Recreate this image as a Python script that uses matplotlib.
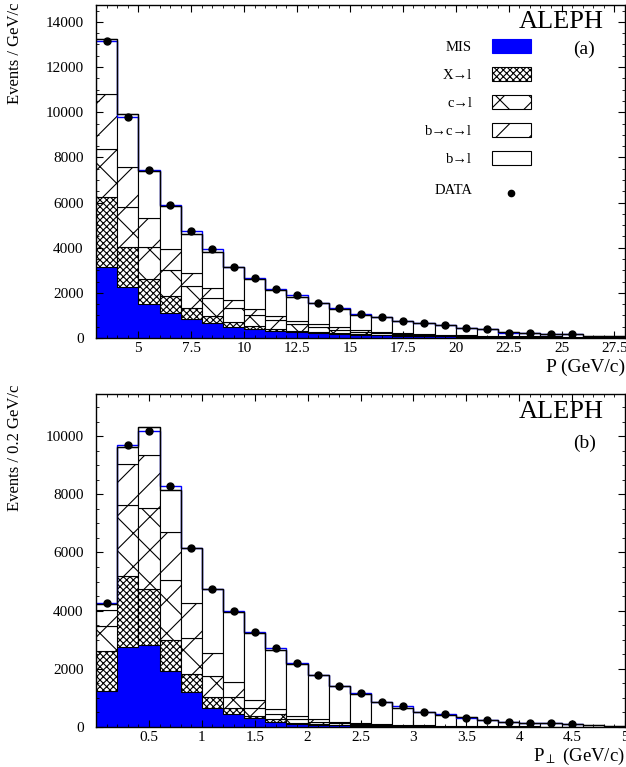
import numpy as np
import matplotlib
matplotlib.use("Agg")
import matplotlib.pyplot as plt
from matplotlib.ticker import MultipleLocator, FixedLocator
from matplotlib.patches import Rectangle

plt.rcParams['font.family'] = ['Liberation Serif', 'DejaVu Serif']
plt.rcParams['mathtext.fontset'] = 'stix'
plt.rcParams['hatch.linewidth'] = 0.8

# ---- panel (a): P spectrum, 1 GeV/c bins from 3 to 28
p_edges = np.arange(3, 29, 1.0)
p_mis = [3160, 2273, 1506, 1093, 827, 650, 500, 385, 325, 266, 236, 160, 133,
         118, 103, 89, 74, 65, 58, 50, 44, 38, 33, 28, 24]
p_xl = [3100, 1772, 1094, 767, 488, 325, 223, 135, 75, 54, 39, 47, 44,
        30, 15, 14, 15, 13, 10, 10, 8, 7, 6, 6, 5]
p_cl = [2114, 1745, 1416, 1153, 989, 782, 592, 500, 397, 300, 225, 147, 89,
        59, 44, 30, 29, 22, 20, 16, 14, 12, 10, 8, 7]
p_bcl = [2436, 1773, 1284, 915, 591, 443, 369, 250, 193, 147, 120, 136, 94,
         73, 45, 44, 30, 25, 22, 19, 16, 13, 11, 10, 9]
p_bl = [2440, 2347, 2085, 1935, 1713, 1625, 1476, 1330, 1152, 1063, 916, 780, 660,
        665, 546, 473, 428, 318, 303, 157, 154, 122, 102, 58, 35]
p_data = [13170, 9800, 7440, 5906, 4726, 3928, 3133, 2673, 2186, 1905, 1536, 1330,
          1050, 945, 753, 650, 576, 457, 399, 236, 236, 177, 162]

# ---- panel (b): Pt spectrum, 0.2 GeV/c bins from 0 to 5
pt_edges = np.linspace(0, 5, 26)
pt_mis = [1220, 2736, 2804, 1908, 1190, 660, 448, 299, 184, 103, 69, 57, 46,
          38, 30, 24, 19, 15, 12, 10, 8, 6, 5, 4, 3]
pt_xl = [1380, 2448, 1943, 1092, 630, 375, 196, 92, 80, 46, 34, 23, 19,
         14, 12, 9, 7, 6, 5, 3, 2, 2, 1, 1, 1]
pt_cl = [860, 2448, 2793, 2069, 1238, 730, 402, 253, 184, 115, 69, 46, 30,
         20, 15, 12, 9, 7, 5, 4, 3, 2, 2, 1, 1]
pt_bcl = [550, 1402, 1805, 1632, 1207, 770, 494, 276, 161, 127, 92, 58, 31,
          23, 18, 13, 11, 8, 7, 5, 4, 3, 2, 2, 1]
pt_bl = [220, 575, 977, 1437, 1873, 2224, 2413, 2310, 2046, 1781, 1529, 1230, 1007,
         750, 592, 471, 373, 297, 212, 161, 132, 112, 93, 49, 38]
pt_data = [4250, 9690, 10184, 8287, 6138, 4759, 3980, 3260, 2713, 2195, 1793, 1425,
           1161, 874, 724, 506, 448, 299, 241, 161, 126, 126, 103]

labels = ["MIS", "X\u2192l", "c\u2192l", "b\u2192c\u2192l", "b\u2192l"]
styles = [dict(facecolor='#0000ff', edgecolor='#0000ff', hatch=None),
          dict(facecolor='white', edgecolor='black', hatch='xxxxx'),
          dict(facecolor='white', edgecolor='black', hatch='x'),
          dict(facecolor='white', edgecolor='black', hatch='/'),
          dict(facecolor='white', edgecolor='black', hatch=None)]


def draw_panel(ax, edges, comps, data):
    left = edges[:-1]
    width = np.diff(edges)
    bottom = np.zeros(len(left))
    for vals, st in zip(comps, styles):
        ax.bar(left, vals, width, bottom=bottom, align='edge', linewidth=0.8, **st)
        bottom = bottom + np.array(vals)
    nd = len(data)
    ax.stairs(data, edges[:nd + 1], color='blue', lw=1.0, baseline=None)
    ax.stairs(bottom, edges, color='black', lw=1.0, baseline=None)
    centers = 0.5 * (edges[:-1] + edges[1:])
    ax.plot(centers[:nd], data, 'o', color='black', ms=5, zorder=5)
    ax.tick_params(which='both', direction='in', top=True, right=True, labelsize=11)
    ax.tick_params(which='major', length=5, width=0.8)
    ax.tick_params(which='minor', length=2.5, width=0.6)
    ax.tick_params(axis='y', pad=9)
    ax.tick_params(axis='x', pad=3)
    for s in ax.spines.values():
        s.set_linewidth(1.0)


fig = plt.figure(figsize=(6.26, 7.67), dpi=100)
ax1 = fig.add_axes([0.1534, 0.5593, 0.845, 0.4342])
ax2 = fig.add_axes([0.1534, 0.0522, 0.845, 0.4342])

# top panel
draw_panel(ax1, p_edges, [p_mis, p_xl, p_cl, p_bcl, p_bl], p_data)
ax1.set_xlim(3, 28)
ax1.set_ylim(0, 14750)
ax1.xaxis.set_major_locator(FixedLocator([5, 7.5, 10, 12.5, 15, 17.5, 20, 22.5, 25, 27.5]))
ax1.set_xticklabels(["5", "7.5", "10", "12.5", "15", "17.5", "20", "22.5", "25", "27.5"])
ax1.xaxis.set_minor_locator(MultipleLocator(0.5))
ax1.yaxis.set_major_locator(MultipleLocator(2000))
ax1.yaxis.set_minor_locator(MultipleLocator(500))
ax1.text(0.96, 0.95, "ALEPH", transform=ax1.transAxes, ha='right', va='center', fontsize=19)
ax1.text(0.923, 0.868, "(a)", transform=ax1.transAxes, ha='center', va='center', fontsize=14)
ax1.text(1.0, -0.063, "P (GeV/c)", transform=ax1.transAxes, ha='right', va='top', fontsize=14)

# legend drawn by hand
label_y = [0.871, 0.787, 0.703, 0.619, 0.535]
for lab, st, yy in zip(labels, styles, label_y):
    ax1.text(0.711, yy, lab, transform=ax1.transAxes, ha='right', va='center', fontsize=10.5)
    ax1.add_patch(Rectangle((0.749, yy - 0.015), 0.074, 0.042, transform=ax1.transAxes,
                            linewidth=0.8, **st))
ax1.text(0.711, 0.444, "DATA", transform=ax1.transAxes, ha='right', va='center', fontsize=10.5)
ax1.plot([0.785], [0.435], 'o', color='black', ms=4.5, transform=ax1.transAxes)

# bottom panel
draw_panel(ax2, pt_edges, [pt_mis, pt_xl, pt_cl, pt_bcl, pt_bl], pt_data)
ax2.set_xlim(0, 5)
ax2.set_ylim(0, 11450)
ax2.xaxis.set_major_locator(FixedLocator([0.5, 1, 1.5, 2, 2.5, 3, 3.5, 4, 4.5, 5]))
ax2.set_xticklabels(["0.5", "1", "1.5", "2", "2.5", "3", "3.5", "4", "4.5", "5"])
ax2.xaxis.set_minor_locator(MultipleLocator(0.1))
ax2.yaxis.set_major_locator(MultipleLocator(2000))
ax2.yaxis.set_minor_locator(MultipleLocator(500))
ax2.text(0.96, 0.946, "ALEPH", transform=ax2.transAxes, ha='right', va='center', fontsize=19)
ax2.text(0.923, 0.853, "(b)", transform=ax2.transAxes, ha='center', va='center', fontsize=14)
ax2.text(1.0, -0.056, r"P$_{\perp}$ (GeV/c)", transform=ax2.transAxes, ha='right', va='top', fontsize=13.5)

fig.text(15 / 626, 1 - 2 / 767, "Events / GeV/c", rotation=90, ha='center', va='top', fontsize=12)
fig.text(15 / 626, 1 - 385 / 767, "Events / 0.2 GeV/c", rotation=90, ha='center', va='top', fontsize=12)

fig.savefig("out.png", dpi=100)
